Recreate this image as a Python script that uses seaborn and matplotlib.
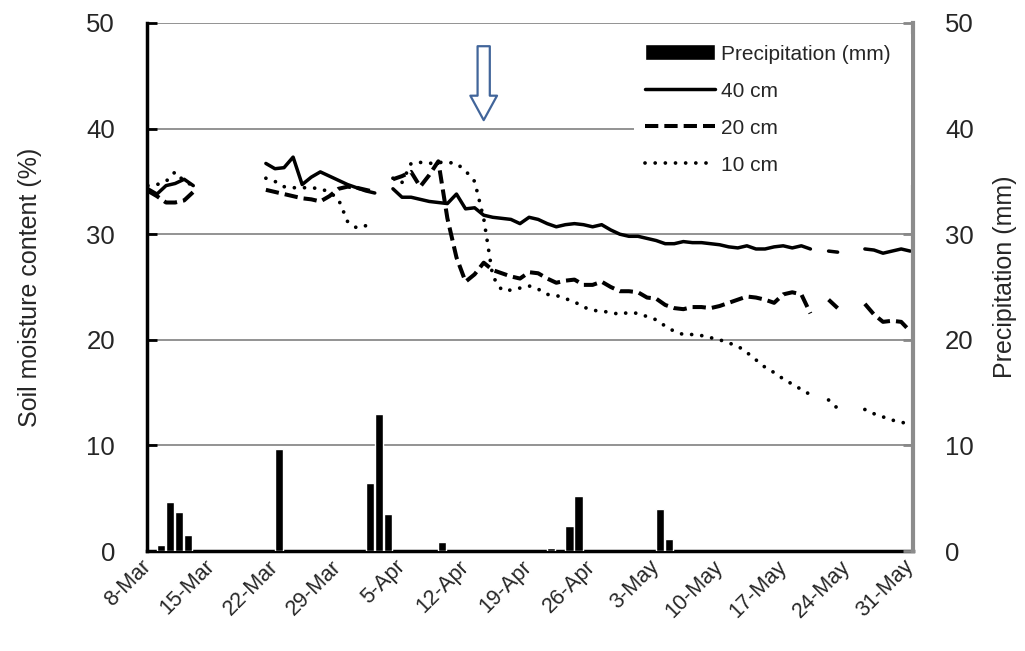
import numpy as np
import pandas as pd
import matplotlib.pyplot as plt
import seaborn as sns

# Daily soil moisture, 8-Mar to 31-May (None = no reading)
dates = pd.date_range('2013-03-08', '2013-05-31', freq='D')
tick_labels = ['8-Mar', '15-Mar', '22-Mar', '29-Mar', '5-Apr', '12-Apr', '19-Apr',
               '26-Apr', '3-May', '10-May', '17-May', '24-May', '31-May']

moist_40 = [34.3, 33.8, 34.6, 34.8, 35.2, 34.6,
            None, None, None, None, None, None, None,
            36.7, 36.2, 36.3, 37.3, 34.7, 35.4, 35.9, 35.5, 35.1, 34.7, 34.4, 34.1, 33.9,
            None,
            34.3, 33.5, 33.5, 33.3, 33.1, 33.0, 32.9, 33.8, 32.4, 32.5, 31.8, 31.6, 31.5, 31.4,
            31.0, 31.6, 31.4, 31.0, 30.7, 30.9, 31.0, 30.9, 30.7, 30.9, 30.4, 30.0, 29.8, 29.8,
            29.6, 29.4, 29.1, 29.1, 29.3, 29.2, 29.2, 29.1, 29.0, 28.8, 28.7, 28.9, 28.6, 28.6,
            28.8, 28.9, 28.7, 28.9, 28.6, None, 28.4, 28.3, None, None, 28.6, 28.5, 28.2, 28.4,
            28.6, 28.4]
moist_20 = [34.1, 33.6, 33.0, 33.0, 33.2, 34.0,
            None, None, None, None, None, None, None,
            34.2, 34.0, 33.8, 33.6, 33.4, 33.3, 33.1, 33.6, 34.3, 34.5, 34.4, 34.2, 34.0,
            None,
            35.2, 35.5, 35.9, 34.5, 35.6, 36.9, 31.5, 27.8, 25.5, 26.2, 27.3, 26.6, 26.3, 26.0,
            25.8, 26.4, 26.3, 25.8, 25.4, 25.6, 25.7, 25.2, 25.2, 25.5, 25.0, 24.6, 24.6, 24.5,
            24.0, 23.9, 23.3, 23.0, 22.9, 23.1, 23.1, 23.0, 23.2, 23.5, 23.8, 24.1, 24.0, 23.8,
            23.5, 24.3, 24.5, 24.3, 22.5, None, 23.8, 23.0, None, None, 23.4, 22.4, 21.7, 21.8,
            21.7, 20.8]
moist_10 = [34.6, 34.7, 35.0, 35.9, 35.0, 34.6,
            None, None, None, None, None, None, None,
            35.3, 35.0, 34.5, 34.4, 34.4, 34.4, 34.3, 34.0, 33.3, 31.2, 30.6, 30.8, 31.1,
            None,
            35.3, 34.9, 36.7, 36.8, 36.7, 36.8, 36.8, 36.7, 36.0, 35.0, 31.5, 26.0, 24.7, 24.7,
            24.9, 25.1, 24.8, 24.3, 24.2, 23.9, 23.6, 23.1, 22.8, 22.7, 22.6, 22.4, 22.6, 22.5,
            22.2, 21.9, 21.3, 20.8, 20.5, 20.5, 20.4, 20.2, 20.0, 19.7, 19.4, 18.8, 18.1, 17.4,
            16.9, 16.3, 15.8, 15.3, 14.8, None, 14.3, 13.5, None, None, 13.4, 13.0, 12.7, 12.4,
            12.2, 12.0]

# Daily precipitation (only rainy days)
rain_dates = ['2013-03-09', '2013-03-10', '2013-03-11', '2013-03-12', '2013-03-22',
              '2013-04-01', '2013-04-02', '2013-04-03', '2013-04-09', '2013-04-21',
              '2013-04-23', '2013-04-24', '2013-05-03', '2013-05-04']
rain_mm = [0.6, 4.6, 3.7, 1.5, 9.7, 6.4, 13.0, 3.5, 0.9, 0.3, 2.4, 5.2, 4.0, 1.1]

sns.set_style('white')
plt.rcParams['font.family'] = ['Liberation Sans', 'DejaVu Sans']

day = (dates - dates[0]).days
moist = pd.DataFrame({'day': day, '40 cm': moist_40, '20 cm': moist_20, '10 cm': moist_10})
moist[['40 cm', '20 cm', '10 cm']] = moist[['40 cm', '20 cm', '10 cm']].astype(float)

rain = pd.DataFrame({'day': (pd.to_datetime(rain_dates) - dates[0]).days, 'mm': rain_mm})
bar_w = 0.9
rain['pos'] = rain['day'] + bar_w / 2  # bars start at their date

fig = plt.figure(figsize=(10.25, 6.51), dpi=100)
ax = fig.add_axes([0.1434, 0.1536, 0.7473, 0.8111])
ax2 = ax.twinx()

styles = {
    '40 cm': dict(linewidth=2.5, linestyle='-', solid_capstyle='round'),
    '20 cm': dict(linewidth=2.9, linestyle=(0, (3.3, 1.5))),
    '10 cm': dict(linewidth=2.7, linestyle=(0, (0.01, 2.7)), dash_capstyle='round'),
}
for col in ['40 cm', '20 cm', '10 cm']:
    d = moist[['day', col]].copy()
    d['seg'] = d[col].isna().cumsum()
    d = d.dropna()
    sns.lineplot(data=d, x='day', y=col, units='seg', estimator=None, color='black',
                 ax=ax, label=col, legend=False, **styles[col])

sns.barplot(data=rain, x='pos', y='mm', native_scale=True, width=bar_w, color='black',
            saturation=1, ax=ax2)

for a in (ax, ax2):
    a.set_ylim(0, 50)
    a.set_yticks([0, 10, 20, 30, 40, 50])
    a.set_xlim(-0.1, 84.3)

ax.set_xticks(np.arange(0, 85, 7))
ax.set_xticklabels(tick_labels, rotation=45, ha='right', va='center', rotation_mode='anchor')
ax.tick_params(axis='x', direction='in', length=7, width=2, pad=9, labelsize=15.5, color='black')
ax.tick_params(axis='y', direction='in', length=7, width=2, pad=23, labelsize=18.5, color='black')
ax2.tick_params(axis='y', direction='in', length=7, width=2, pad=23, labelsize=18.5, color='#888888')

ax.yaxis.grid(True, color='#808080', linewidth=1.2)
ax.xaxis.grid(False)
ax.set_axisbelow(True)

ax.spines['top'].set_visible(False)
ax2.spines['top'].set_visible(False)
ax.spines['left'].set_linewidth(2.5)
ax.spines['left'].set_color('black')
ax.spines['bottom'].set_linewidth(2.5)
ax.spines['bottom'].set_color('black')
ax2.spines['right'].set_linewidth(3)
ax2.spines['right'].set_color('#8c8c8c')
ax2.spines['left'].set_visible(False)
ax2.spines['bottom'].set_visible(False)

ax.set_xlabel('')
ax2.set_xlabel('')
ax.set_ylabel('Soil moisture content (%)', fontsize=18)
ax2.set_ylabel('Precipitation (mm)', fontsize=18)
ax.yaxis.set_label_coords(-0.137, 0.5)
ax2.yaxis.set_label_coords(1.104, 0.52)

# hollow arrow marking the event
ax2.annotate('', xy=(37, 40.8), xytext=(37, 47.8),
             arrowprops=dict(arrowstyle='simple,head_length=1.1,head_width=1.2,tail_width=0.55',
                             mutation_scale=16, fc='white', ec='#41659a', lw=1.6,
                             shrinkA=0, shrinkB=0))

# legend: precipitation first, then the depths; white box hides the gridline behind it
handles, labels = ax.get_legend_handles_labels()
uniq = dict(zip(labels, handles))
leg_h = [ax2.patches[0]] + [uniq[k] for k in ['40 cm', '20 cm', '10 cm']]
leg_l = ['Precipitation (mm)', '40 cm', '20 cm', '10 cm']
leg = ax2.legend(leg_h, leg_l, loc='upper left', bbox_to_anchor=(0.636, 0.70, 0.362, 0.279),
                 mode='expand', frameon=True,
                 fontsize=15, handlelength=3.4, handleheight=0.8, handletextpad=0.25,
                 labelspacing=0.86, borderpad=0.5, borderaxespad=0, fancybox=False,
                 framealpha=1)
leg.get_frame().set_facecolor('white')
leg.get_frame().set_edgecolor('none')

fig.savefig('out.png', dpi=100)
